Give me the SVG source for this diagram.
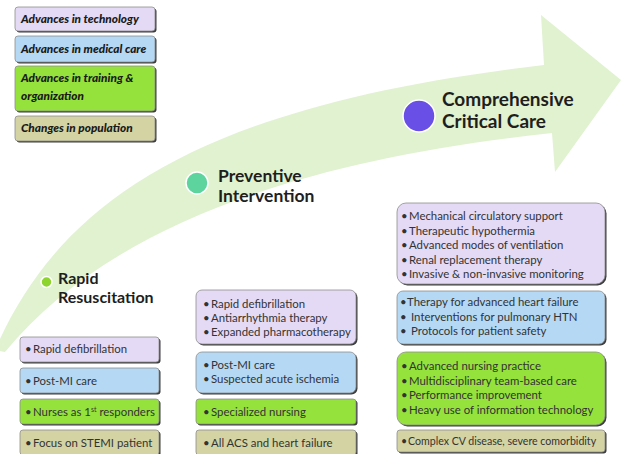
<svg xmlns="http://www.w3.org/2000/svg" width="625" height="454" viewBox="0 0 625 454">
<style>
.lav{fill:#e4daf6}
.blu{fill:#b5d9f5}
.grn{fill:#95e23c}
.tan{fill:#d3d3a3}
.box{stroke:#8e8e8e;stroke-width:0.8}
.sh{fill:#3d3d3d}
.t{font-family:Lato,"Liberation Sans",sans-serif;font-size:11.4px;fill:#333}
.ts{font-family:Lato,"Liberation Sans",sans-serif;font-size:10.6px;fill:#333}
.lg{font-family:Lato,"Liberation Sans",sans-serif;font-weight:900;font-style:italic;font-size:11.8px;fill:#1a1a1a}
.h{font-family:Lato,"Liberation Sans",sans-serif;font-weight:bold;fill:#1e1e1e}
.dot{stroke:#ffffff;stroke-width:1.5}
</style>
<rect width="625" height="454" fill="#ffffff"/>
<g id="connectors">
<path id="progress-arrow" d="M -5,350 C 60,200 200,105 544,65 L 541,15 L 621,80 L 555,172 L 552,133 C 300,160 110,225 5,352 Z" fill="#e0f2cf"/>
</g>
<g id="legend-technology">
<rect class="sh" x="16.5" y="8.5" width="140" height="24" rx="3"/>
<rect class="lav box" x="15" y="7" width="140" height="24" rx="3"/>
<text class="lg" x="21" y="23">Advances in technology</text>
</g>
<g id="legend-medical">
<rect class="sh" x="16.5" y="37.5" width="140" height="26" rx="3"/>
<rect class="blu box" x="15" y="36" width="140" height="26" rx="3"/>
<text class="lg" x="21" y="53">Advances in medical care</text>
</g>
<g id="legend-training">
<rect class="sh" x="16.5" y="67.5" width="140" height="45" rx="3"/>
<rect class="grn box" x="15" y="66" width="140" height="45" rx="3"/>
<text class="lg" x="21" y="82">Advances in training &amp;</text>
<text class="lg" x="21" y="100">organization</text>
</g>
<g id="legend-population">
<rect class="sh" x="16.5" y="117.5" width="140" height="25" rx="3"/>
<rect class="tan box" x="15" y="116" width="140" height="25" rx="3"/>
<text class="lg" x="21" y="132">Changes in population</text>
</g>
<g id="stage-rapid">
<circle class="dot" cx="46.5" cy="282" r="5.5" fill="#8ed42e"/>
<text class="h" x="58" y="284" font-size="16">Rapid</text>
<text class="h" x="58" y="303" font-size="16">Resuscitation</text>
</g>
<g id="stage-preventive">
<circle class="dot" cx="197" cy="183" r="11" fill="#5dd39e"/>
<text class="h" x="218" y="182" font-size="17.5">Preventive</text>
<text class="h" x="218" y="202" font-size="17.5">Intervention</text>
</g>
<g id="stage-comprehensive">
<circle class="dot" cx="419" cy="116" r="16" fill="#6a4fe6"/>
<text class="h" x="442" y="106" font-size="19">Comprehensive</text>
<text class="h" x="442" y="128" font-size="19">Critical Care</text>
</g>
<g id="rapid-technology">
<rect class="sh" x="21.5" y="338.5" width="139" height="25" rx="3"/>
<rect class="lav box" x="20" y="337" width="139" height="25" rx="3"/>
<text class="t" x="25" y="353">•<tspan x="33">Rapid defibrillation</tspan></text>
</g>
<g id="rapid-medical">
<rect class="sh" x="21.5" y="369.5" width="139" height="25" rx="3"/>
<rect class="blu box" x="20" y="368" width="139" height="25" rx="3"/>
<text class="t" x="25" y="385">•<tspan x="33">Post-MI care</tspan></text>
</g>
<g id="rapid-training">
<rect class="sh" x="21.5" y="400.5" width="139" height="25" rx="3"/>
<rect class="grn box" x="20" y="399" width="139" height="25" rx="3"/>
<text class="t" x="25" y="415.5">•<tspan x="33">Nurses as 1</tspan><tspan dy="-4" font-size="7">st</tspan><tspan dy="4"> responders</tspan></text>
</g>
<g id="rapid-population">
<rect class="sh" x="21.5" y="431.5" width="139" height="25" rx="3"/>
<rect class="tan box" x="20" y="430" width="139" height="25" rx="3"/>
<text class="t" x="25" y="446.5">•<tspan x="33">Focus on STEMI patient</tspan></text>
</g>
<g id="preventive-technology">
<rect class="sh" x="197.5" y="291.5" width="160" height="54" rx="6"/>
<rect class="lav box" x="196" y="290" width="160" height="54" rx="6"/>
<text class="t" x="203" y="307.5">•<tspan x="211">Rapid defibrillation</tspan></text>
<text class="t" x="203" y="321.5">•<tspan x="211">Antiarrhythmia therapy</tspan></text>
<text class="t" x="203" y="335.5">•<tspan x="211">Expanded pharmacotherapy</tspan></text>
</g>
<g id="preventive-medical">
<rect class="sh" x="197.5" y="353.5" width="160" height="41" rx="6"/>
<rect class="blu box" x="196" y="352" width="160" height="41" rx="6"/>
<text class="t" x="203" y="369">•<tspan x="211">Post-MI care</tspan></text>
<text class="t" x="203" y="383">•<tspan x="211">Suspected acute ischemia</tspan></text>
</g>
<g id="preventive-training">
<rect class="sh" x="197.5" y="400.5" width="160" height="25" rx="3"/>
<rect class="grn box" x="196" y="399" width="160" height="25" rx="3"/>
<text class="t" x="203" y="415.5">•<tspan x="211">Specialized nursing</tspan></text>
</g>
<g id="preventive-population">
<rect class="sh" x="197.5" y="431.5" width="160" height="25" rx="3"/>
<rect class="tan box" x="196" y="430" width="160" height="25" rx="3"/>
<text class="t" x="203" y="446.5">•<tspan x="211">All ACS and heart failure</tspan></text>
</g>
<g id="comprehensive-technology">
<rect class="sh" x="398.5" y="204.5" width="208" height="81" rx="9"/>
<rect class="lav box" x="397" y="203" width="208" height="81" rx="9"/>
<text class="t" x="401" y="220">•<tspan x="409">Mechanical circulatory support</tspan></text>
<text class="t" x="401" y="234.5">•<tspan x="409">Therapeutic hypothermia</tspan></text>
<text class="t" x="401" y="249">•<tspan x="409">Advanced modes of ventilation</tspan></text>
<text class="t" x="401" y="263.5">•<tspan x="409">Renal replacement therapy</tspan></text>
<text class="t" x="401" y="278">•<tspan x="409">Invasive &amp; non-invasive monitoring</tspan></text>
</g>
<g id="comprehensive-medical">
<rect class="sh" x="398.5" y="292.5" width="208" height="53" rx="6"/>
<rect class="blu box" x="397" y="291" width="208" height="53" rx="6"/>
<text class="t" x="400" y="306">•<tspan x="407">Therapy for advanced heart failure</tspan></text>
<text class="t" x="400" y="320.5">•<tspan x="411">Interventions for pulmonary HTN</tspan></text>
<text class="t" x="400" y="335">•<tspan x="411">Protocols for patient safety</tspan></text>
</g>
<g id="comprehensive-training">
<rect class="sh" x="398.5" y="353.5" width="208" height="73" rx="9"/>
<rect class="grn box" x="397" y="352" width="208" height="73" rx="9"/>
<text class="t" x="401" y="370">•<tspan x="409">Advanced nursing practice</tspan></text>
<text class="t" x="401" y="384.5">•<tspan x="409">Multidisciplinary team-based care</tspan></text>
<text class="t" x="401" y="399">•<tspan x="409">Performance improvement</tspan></text>
<text class="t" x="401" y="413.5">•<tspan x="409">Heavy use of information technology</tspan></text>
</g>
<g id="comprehensive-population">
<rect class="sh" x="398.5" y="431.5" width="208" height="22" rx="3"/>
<rect class="tan box" x="397" y="430" width="208" height="22" rx="3"/>
<text class="ts" x="401" y="444.5">•<tspan x="408">Complex CV disease, severe comorbidity</tspan></text>
</g>
</svg>
